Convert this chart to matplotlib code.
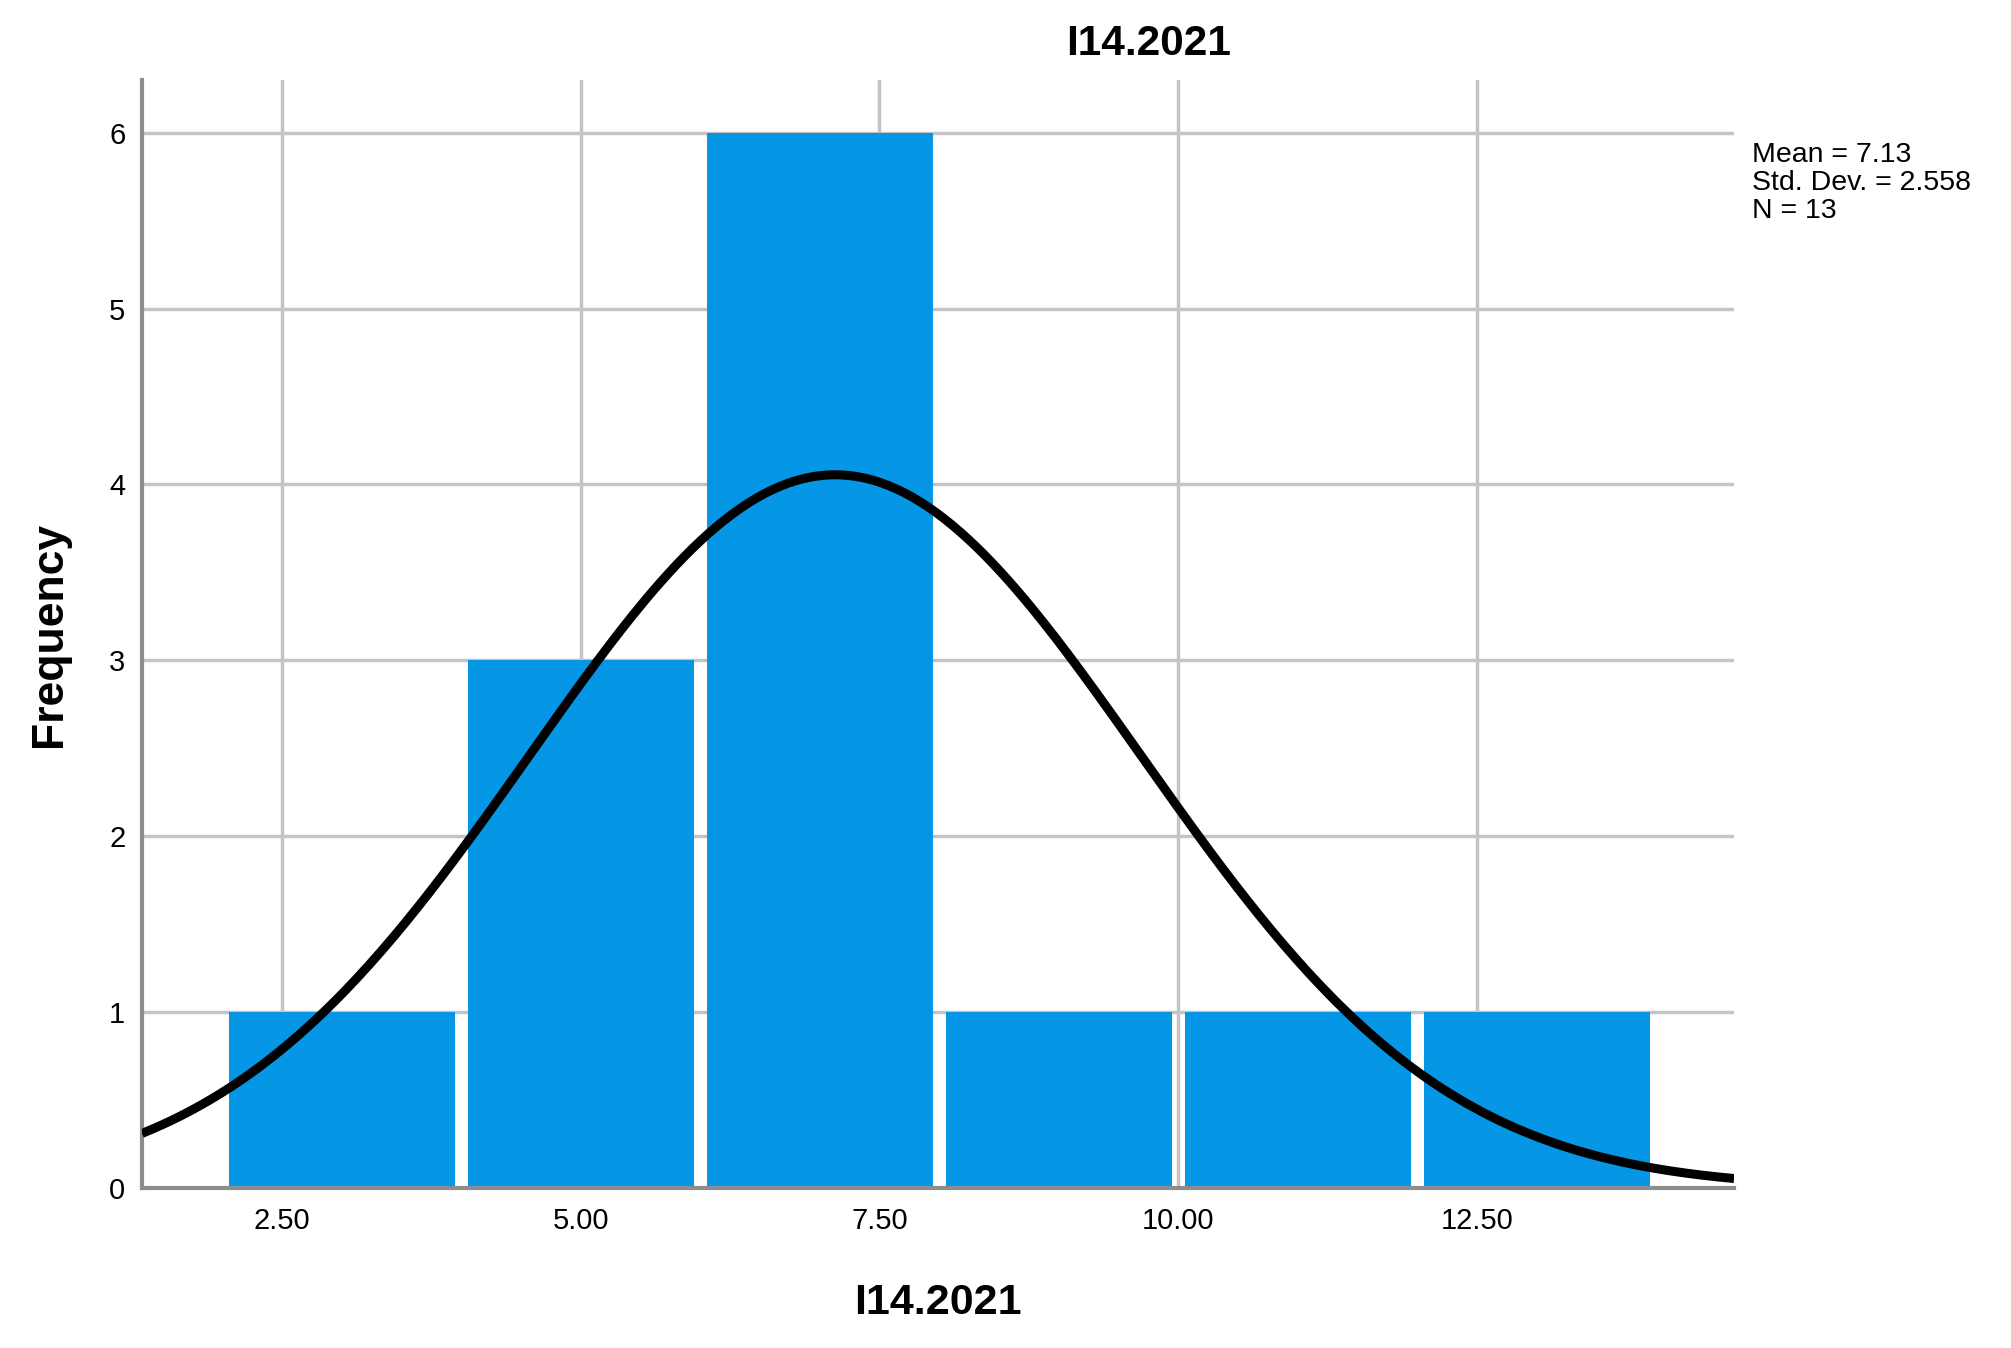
import numpy as np
import matplotlib
matplotlib.use('Agg')
import matplotlib.pyplot as plt

plt.rcParams['font.family'] = ['Liberation Sans', 'DejaVu Sans']

# histogram data
bin_edges = [2, 4, 6, 8, 10, 12, 14]
counts = [1, 3, 6, 1, 1, 1]
mean = 7.13
std_dev = 2.558
n = 13
x_ticks = [2.5, 5.0, 7.5, 10.0, 12.5]
x_tick_labels = ['2.50', '5.00', '7.50', '10.00', '12.50']
y_ticks = [0, 1, 2, 3, 4, 5, 6]

fig = plt.figure(figsize=(20.11, 13.48), dpi=100)
ax = fig.add_axes([0.0706, 0.1187, 0.7917, 0.822])

centers = [(a + b) / 2 for a, b in zip(bin_edges[:-1], bin_edges[1:])]
ax.hist(centers, bins=bin_edges, weights=counts, rwidth=0.945,
        color='#0596E6', zorder=2)

# normal curve from mean / std dev
bw = bin_edges[1] - bin_edges[0]
xs = np.linspace(1.33, 14.65, 400)
ys = n * bw / (std_dev * np.sqrt(2 * np.pi)) * np.exp(-0.5 * ((xs - mean) / std_dev) ** 2)
ax.plot(xs, ys, color='black', lw=6.5, zorder=3, solid_capstyle='butt')

ax.set_xlim(1.33, 14.65)
ax.set_ylim(0, 6.3)
ax.set_xticks(x_ticks)
ax.set_xticklabels(x_tick_labels)
ax.set_yticks(y_ticks)
ax.tick_params(axis='both', length=0, labelsize=21)
ax.tick_params(axis='x', pad=14)
ax.tick_params(axis='y', pad=12)
ax.grid(True, color='#C4C4C4', lw=2.5, zorder=0)
ax.set_axisbelow(True)

for s in ['top', 'right']:
    ax.spines[s].set_visible(False)
for s in ['left', 'bottom']:
    ax.spines[s].set_color('#8C8C8C')
    ax.spines[s].set_linewidth(3)

ax.set_xlabel('I14.2021', fontsize=31, fontweight='bold', labelpad=34)
ax.set_ylabel('Frequency', fontsize=32, fontweight='bold', labelpad=28)
fig.text(0.571, 0.967, 'I14.2021', fontsize=30.5, fontweight='bold',
         ha='center', va='center')

fig.text(0.871, 0.895, 'Mean = 7.13\nStd. Dev. = 2.558\nN = 13',
         fontsize=20.5, va='top', ha='left', linespacing=1.1)

fig.savefig('out.png', dpi=100)
